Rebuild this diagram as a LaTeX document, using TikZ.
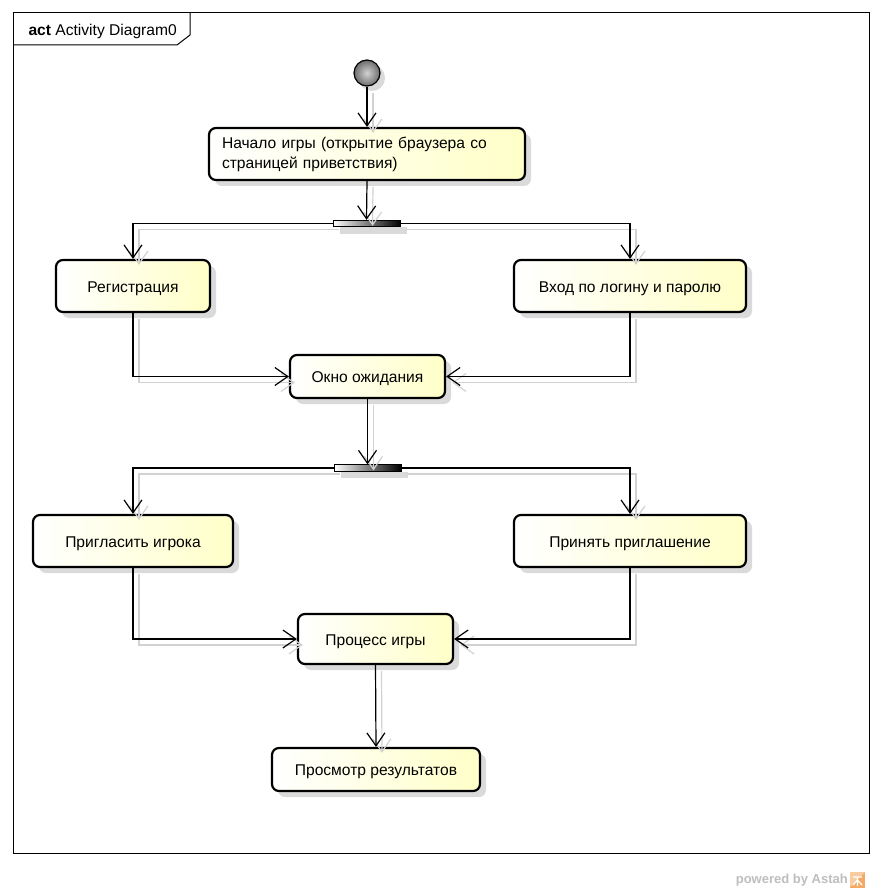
\documentclass[tikz,border=0pt]{standalone}
\usepackage{fontspec}
\setmainfont{Liberation Sans}
\usetikzlibrary{shadows,arrows.meta}
\definecolor{actfill}{RGB}{255,255,200}
\definecolor{shadowgray}{RGB}{218,218,218}
\definecolor{flowshadow}{RGB}{210,210,210}
\definecolor{brandgray}{RGB}{190,190,190}
\definecolor{brandorange}{RGB}{244,170,100}
\begin{document}
\begin{tikzpicture}[x=1pt,y=-1pt,
  action/.style={draw=black, line width=2.2pt, rounded corners=7pt,
    left color=white, right color=actfill,
    drop shadow={shadow xshift=6pt, shadow yshift=-6pt, fill=shadowgray, opacity=1},
    inner sep=0pt, align=center, font=\fontsize{15.6}{20}\selectfont},
  oneline/.style={text height=14pt, text depth=2pt},
  forkbar/.style={draw=black, line width=0.8pt, rectangle, inner sep=0pt,
    minimum width=67pt, minimum height=6.5pt, left color=white, right color=black,
    drop shadow={shadow xshift=7pt, shadow yshift=-7pt, fill=shadowgray, opacity=1}},
  initial/.style={circle, draw=black, line width=1.2pt, minimum size=26pt, inner sep=0pt,
    inner color=gray!35, outer color=gray!85!black,
    drop shadow={shadow xshift=5pt, shadow yshift=-5pt, fill=shadowgray, opacity=1}},
  flow/.style={line width=1.2pt, -{Straight Barb[length=13pt, width=18pt, line width=1.2pt]}},
]
% canvas
\fill[white] (0,0) rectangle (882,893);
\useasboundingbox (0,0) rectangle (882,893);

% diagram frame with its name tab
\draw[line width=1pt] (13,13) rectangle (869,853);
\draw[line width=1pt] (13,45) -- (177,45) -- (190,35) -- (190,13);
\node[anchor=west, font=\fontsize{15.6}{18}\selectfont] (title) at (25,31)
  {\textbf{act} Activity Diagram0};

% nodes
\node[initial] (init) at (367,73) {};
\node[action, minimum width=316pt, minimum height=52pt, text width=290pt, align=left]
  (start) at (367,154) {Начало игры (открытие браузера со\\страницей приветствия)};
\node[forkbar] (f1) at (366.5,223.5) {};
\node[action, oneline, minimum width=154pt, minimum height=52pt] (reg) at (133,286) {Регистрация};
\node[action, oneline, minimum width=232pt, minimum height=52pt] (login) at (630,286) {Вход по логину и паролю};
\node[action, oneline, minimum width=155pt, minimum height=43pt] (wait) at (367.5,376.5) {Окно ожидания};
\node[forkbar] (f2) at (367.5,468) {};
\node[action, oneline, minimum width=200pt, minimum height=52pt] (invite) at (133,541) {Пригласить игрока};
\node[action, oneline, minimum width=232pt, minimum height=52pt] (accept) at (630,541) {Принять приглашение};
\node[action, oneline, minimum width=155pt, minimum height=50pt] (game) at (375.5,639) {Процесс игры};
\node[action, oneline, minimum width=208pt, minimum height=43pt] (results) at (376,769.5) {Просмотр результатов};

% control flows, drawn once as soft shadows and once in black
\newcommand\controlflows[1]{%
  \draw[flow,#1] (init.south) -- (start.north);
  \draw[flow,#1] (start.south) -- (f1.north);
  \draw[flow,#1] (f1.west) -| (reg.north);
  \draw[flow,#1] (f1.east) -| (login.north);
  \draw[flow,#1] (reg.south) |- (wait.west);
  \draw[flow,#1] (login.south) |- (wait.east);
  \draw[flow,#1] (wait.south) -- (f2.north);
  \draw[flow,#1] (f2.west) -| (invite.north);
  \draw[flow,#1] (f2.east) -| (accept.north);
  \draw[flow,#1] (invite.south) |- (game.west);
  \draw[flow,#1] (accept.south) |- (game.east);
  \draw[flow,#1] (game.south) -- (results.north);
}
\begin{scope}[transform canvas={xshift=6pt, yshift=-6pt}]
  \controlflows{flowshadow}
\end{scope}
\controlflows{black}

% tool credit
\node[anchor=east, text=brandgray, font=\fontsize{13}{15}\selectfont\bfseries, inner sep=0pt]
  (credit) at (848,880) {powered by Astah};
\fill[brandorange] (850,872) rectangle (865,888);
\fill[brandorange!60!white] (850,872) -- (865,872) -- (850,887) -- cycle;
\draw[white, line width=1.3pt] (853,877) -- (862,877) (857.5,877) -- (857.5,886) (853,885) -- (857.5,880) -- (862,885);
\end{tikzpicture}
\end{document}
